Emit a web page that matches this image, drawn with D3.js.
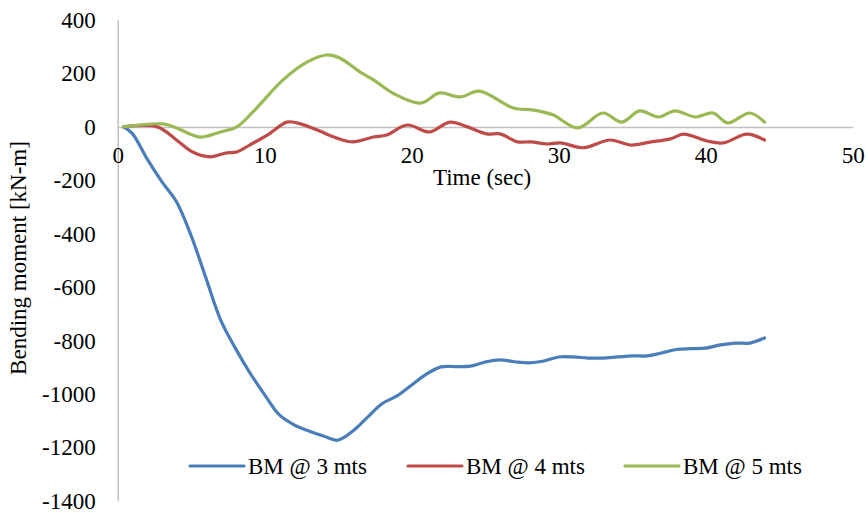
<!DOCTYPE html>
<html>
<head>
<meta charset="utf-8">
<script src="https://cdn.jsdelivr.net/npm/d3@7"></script>
<style>
    body { margin: 0; background: #fff; }
    svg text { font-family: 'Liberation Serif', 'Times New Roman', serif; fill: #000; }
    .axis path { stroke: #bfbfbf; stroke-width: 1.5; }
    .series { fill: none; stroke-width: 3.2; stroke-linecap: round; stroke-linejoin: round; }
</style>
</head>
<body>
<div id="chart"></div>
<script>
// time (sec) and bending moment (kN-m)
var time3 = [0.4, 1, 2, 3, 4, 5, 6, 7, 8, 9, 10, 11, 12, 13, 14, 15, 16, 17, 18, 19, 20, 21, 22,
    23, 24, 25, 26, 27, 28, 29, 30, 31, 32, 33, 34, 35, 36, 37, 38, 39, 40, 41, 42, 43, 44];
var bm3 = [0, -25, -120, -205, -280, -408, -565, -722, -828, -921, -1003, -1078, -1115, -1138,
    -1157, -1172, -1138, -1086, -1035, -1007, -966, -925, -898, -897, -895, -880, -872, -879,
    -883, -876, -861, -861, -865, -865, -861, -857, -857, -846, -833, -830, -828, -816, -809,
    -809, -790];

var time4 = [0.4, 2.7, 4, 5.1, 6.3, 7.4, 8.1, 9, 10.2, 11.5, 12.2, 13.5, 14.9, 16, 17.4, 18.3,
    19.7, 21.2, 22.6, 23.8, 25.1, 26, 27.2, 28.1, 29.2, 30.1, 31.7, 33.5, 34.9, 36.2, 37.6, 38.5,
    40.1, 41.2, 42.8, 44];
var bm4 = [0, 0, -49, -94, -112, -97, -94, -67, -30, 18, 15, -10, -42, -56, -38, -30, 7, -19, 18,
    0, -26, -26, -56, -56, -64, -60, -78, -49, -68, -57, -45, -27, -53, -60, -27, -49];

var time5 = [0.4, 3.1, 4, 5.6, 7, 8.1, 9.2, 11.25, 12.9, 14.2, 15.1, 16.5, 17.4, 18.7, 20.6, 21.9,
    23.3, 24.6, 26.9, 28.3, 29.6, 31.3, 33, 34.3, 35.5, 36.8, 37.9, 39.3, 40.5, 41.5, 43, 44];
var bm5 = [0, 11, -4, -38, -19, 0, 56, 176, 243, 269, 258, 205, 176, 127, 89, 127, 112, 134, 71,
    63, 45, -4, 52, 18, 60, 37, 60, 37, 52, 15, 52, 18];

var seriesNames = ['BM @ 3 mts', 'BM @ 4 mts', 'BM @ 5 mts'];
var seriesColors = ['#4a7ebb', '#be4b48', '#98b954'];
var xTicks = [0, 10, 20, 30, 40, 50];
var yTicks = [400, 200, 0, -200, -400, -600, -800, -1000, -1200, -1400];

var width = 868;
var height = 513;
var fontSize = 23;

var plain = function(d) {
    return String(d);
};

var svg = d3.select('#chart').append('svg')
    .attr('width', width)
    .attr('height', height);

var x = d3.scaleLinear().domain([0, 50]).range([117.7, 852.7]);
var y = d3.scaleLinear().domain([-1400, 400]).range([501, 20]);

// y axis on the left edge of the plot
svg.append('g')
    .attr('class', 'axis')
    .attr('transform', 'translate(' + x(0) + ',0)')
    .call(d3.axisLeft(y).tickValues(yTicks).tickFormat(plain).tickSize(0).tickPadding(22))
    .selectAll('text')
    .style('font-size', fontSize + 'px');

// x axis sits on the zero line
svg.append('g')
    .attr('class', 'axis')
    .attr('transform', 'translate(0,' + y(0) + ')')
    .call(d3.axisBottom(x).tickValues(xTicks).tickFormat(plain).tickSize(0).tickPadding(20))
    .selectAll('text')
    .style('font-size', fontSize + 'px');

svg.selectAll('.axis .tick line').remove();

svg.append('text')
    .attr('x', 482)
    .attr('y', 185)
    .attr('text-anchor', 'middle')
    .style('font-size', fontSize + 'px')
    .text('Time (sec)');

svg.append('text')
    .attr('transform', 'translate(26,258) rotate(-90)')
    .attr('text-anchor', 'middle')
    .style('font-size', fontSize + 'px')
    .text('Bending moment [kN-m]');

var line = d3.line()
    .x(function(d) { return x(d[0]); })
    .y(function(d) { return y(d[1]); })
    .curve(d3.curveCatmullRom.alpha(0.5));

var series = [
    d3.zip(time3, bm3),
    d3.zip(time4, bm4),
    d3.zip(time5, bm5)
];

svg.selectAll('path.series')
    .data(series)
    .enter()
    .append('path')
    .attr('class', 'series')
    .attr('stroke', function(d, i) { return seriesColors[i]; })
    .attr('d', line);

// legend along the bottom
var legendX = [190, 408, 625];
var legendY = 466;

var item = svg.selectAll('g.legend')
    .data(seriesNames)
    .enter()
    .append('g')
    .attr('class', 'legend')
    .attr('transform', function(d, i) { return 'translate(' + legendX[i] + ',' + legendY + ')'; });

item.append('line')
    .attr('x1', 0)
    .attr('x2', 54)
    .attr('stroke', function(d, i) { return seriesColors[i]; })
    .attr('stroke-width', 3.2)
    .attr('stroke-linecap', 'round');

item.append('text')
    .attr('x', 58)
    .attr('y', 8)
    .style('font-size', fontSize + 'px')
    .text(function(d) { return d; });
</script>
</body>
</html>
